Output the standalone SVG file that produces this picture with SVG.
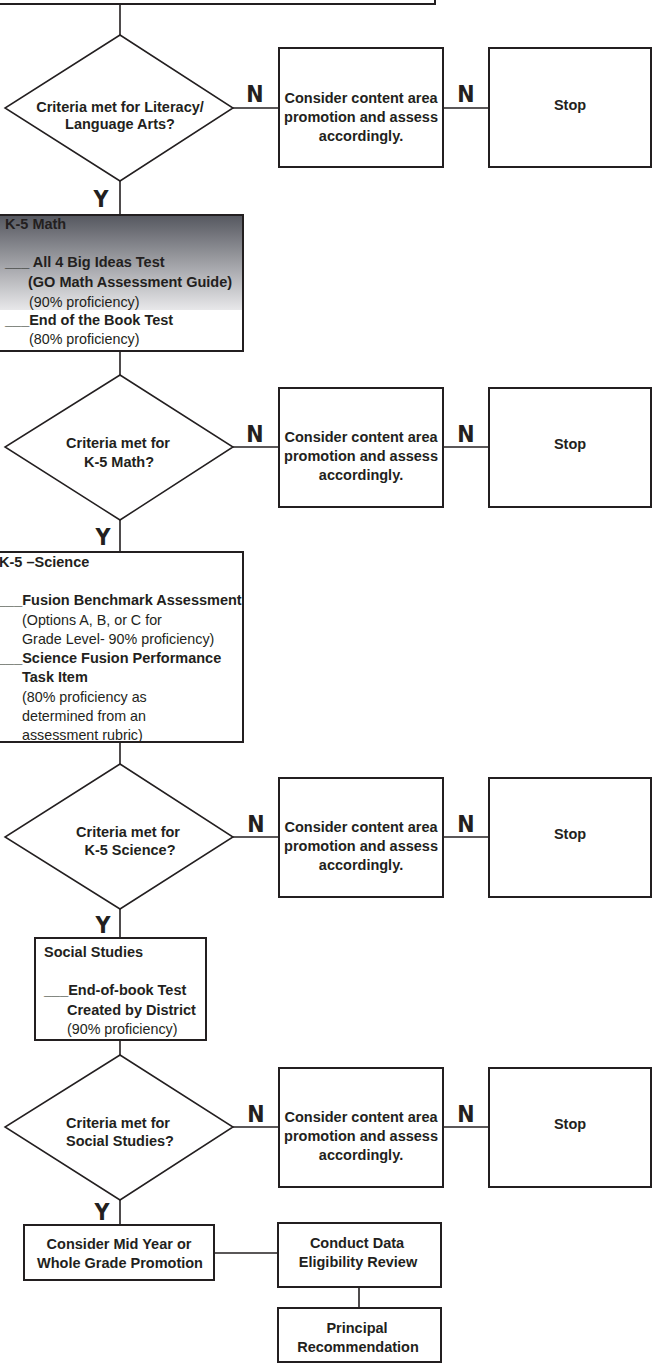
<svg xmlns="http://www.w3.org/2000/svg" width="653" height="1367" viewBox="0 0 653 1367">
<defs>
<linearGradient id="mathGrad" x1="0" y1="0" x2="0" y2="1">
<stop offset="0" stop-color="#55575f"/>
<stop offset="1" stop-color="#e8e8ea"/>
</linearGradient>
<style>
.box{fill:#fff;stroke:#231f20;stroke-width:2}
.dia{fill:#fff;stroke:#231f20;stroke-width:1.5}
.ln{stroke:#231f20;stroke-width:1.6;fill:none}
text{font-family:"Liberation Sans",Arial,sans-serif;fill:#231f20}
.b{font-size:14.5px;font-weight:bold}
.r{font-size:14.3px}
.c{text-anchor:middle}
.lbl{font-family:"Liberation Sans Narrow","DejaVu Sans Condensed",sans-serif;font-size:23px;font-weight:bold;text-anchor:middle}
</style>
</defs>
<rect width="653" height="1367" fill="#fff"/>

<g id="connectors">
<line class="ln" x1="120" y1="4" x2="120" y2="35"/>
<line class="ln" x1="233" y1="108" x2="279" y2="108"/>
<line class="ln" x1="443" y1="108" x2="489" y2="108"/>
<line class="ln" x1="120" y1="181" x2="120" y2="224"/>
<line class="ln" x1="120" y1="343" x2="120" y2="375"/>
<line class="ln" x1="233" y1="447" x2="279" y2="447"/>
<line class="ln" x1="443" y1="447" x2="489" y2="447"/>
<line class="ln" x1="120" y1="520" x2="120" y2="552"/>
<line class="ln" x1="120" y1="742" x2="120" y2="764"/>
<line class="ln" x1="233" y1="837" x2="279" y2="837"/>
<line class="ln" x1="443" y1="837" x2="489" y2="837"/>
<line class="ln" x1="120" y1="909" x2="120" y2="938"/>
<line class="ln" x1="120" y1="1040" x2="120" y2="1055"/>
<line class="ln" x1="233" y1="1127" x2="279" y2="1127"/>
<line class="ln" x1="443" y1="1127" x2="489" y2="1127"/>
<line class="ln" x1="120" y1="1200" x2="120" y2="1225"/>
<line class="ln" x1="214" y1="1253" x2="278" y2="1253"/>
<line class="ln" x1="359" y1="1287" x2="359" y2="1308"/>
<text class="lbl" x="255" y="102">N</text>
<text class="lbl" x="466" y="102">N</text>
<text class="lbl" x="101" y="207">Y</text>
<text class="lbl" x="255" y="442">N</text>
<text class="lbl" x="466" y="442">N</text>
<text class="lbl" x="103" y="545">Y</text>
<text class="lbl" x="256" y="832">N</text>
<text class="lbl" x="466" y="832">N</text>
<text class="lbl" x="103" y="933">Y</text>
<text class="lbl" x="256" y="1122">N</text>
<text class="lbl" x="466" y="1122">N</text>
<text class="lbl" x="102" y="1220">Y</text>
</g>

<g id="top-box">
<rect class="box" x="-4" y="-40" width="439" height="44"/>
</g>

<g id="decision-literacy">
<polygon class="dia" points="120,35 233,108 120,181 5,108"/>
<text class="b c" x="120" y="112">Criteria met for Literacy/</text>
<text class="b c" x="120" y="129">Language Arts?</text>
</g>
<g id="consider-1">
<rect class="box" x="279" y="48" width="164" height="119"/>
<text class="b c" x="361" y="103">Consider content area</text>
<text class="b c" x="361" y="122">promotion and assess</text>
<text class="b c" x="361" y="141">accordingly.</text>
</g>
<g id="stop-1">
<rect class="box" x="489" y="48" width="162" height="119"/>
<text class="b c" x="570" y="110">Stop</text>
</g>

<g id="math-box">
<rect x="-2" y="215" width="245" height="136" fill="#fff"/>
<rect x="-2" y="215" width="245" height="95" fill="url(#mathGrad)"/>
<rect x="-2" y="215" width="245" height="136" fill="none" stroke="#231f20" stroke-width="2"/>
<text class="b" x="5" y="229">K-5 Math</text>
<text class="b" x="5" y="267">___ All 4 Big Ideas Test</text>
<text class="b" x="28" y="287">(GO Math Assessment Guide)</text>
<text class="r" x="29" y="307">(90% proficiency)</text>
<text class="b" x="5" y="325">___End of the Book Test</text>
<text class="r" x="29" y="344">(80% proficiency)</text>
</g>

<g id="decision-math">
<polygon class="dia" points="120,375 233,447 120,520 5,447"/>
<text class="b c" x="118" y="448">Criteria met for</text>
<text class="b c" x="119" y="467">K-5 Math?</text>
</g>
<g id="consider-2">
<rect class="box" x="279" y="388" width="164" height="119"/>
<text class="b c" x="361" y="442">Consider content area</text>
<text class="b c" x="361" y="461">promotion and assess</text>
<text class="b c" x="361" y="480">accordingly.</text>
</g>
<g id="stop-2">
<rect class="box" x="489" y="388" width="162" height="119"/>
<text class="b c" x="570" y="449">Stop</text>
</g>

<g id="science-box">
<rect class="box" x="-5" y="552" width="248" height="190"/>
<text class="b" x="-1" y="567">K-5 –Science</text>
<text class="b" x="-2" y="605">___Fusion Benchmark Assessment</text>
<text class="r" x="22" y="625">(Options A, B, or C for</text>
<text class="r" x="22" y="644">Grade Level- 90% proficiency)</text>
<text class="b" x="-2" y="663">___Science Fusion Performance</text>
<text class="b" x="22" y="682">Task Item</text>
<text class="r" x="22" y="702">(80% proficiency as</text>
<text class="r" x="22" y="721">determined from an</text>
<text class="r" x="22" y="740">assessment rubric)</text>
</g>

<g id="decision-science">
<polygon class="dia" points="120,764 233,837 120,909 5,837"/>
<text class="b c" x="128" y="837">Criteria met for</text>
<text class="b c" x="130" y="855">K-5 Science?</text>
</g>
<g id="consider-3">
<rect class="box" x="279" y="778" width="164" height="119"/>
<text class="b c" x="361" y="832">Consider content area</text>
<text class="b c" x="361" y="851">promotion and assess</text>
<text class="b c" x="361" y="870">accordingly.</text>
</g>
<g id="stop-3">
<rect class="box" x="489" y="778" width="162" height="119"/>
<text class="b c" x="570" y="839">Stop</text>
</g>

<g id="social-studies-box">
<rect class="box" x="35" y="938" width="171" height="102"/>
<text class="b" x="44" y="957">Social Studies</text>
<text class="b" x="44" y="995">___End-of-book Test</text>
<text class="b" x="67" y="1015">Created by District</text>
<text class="r" x="67" y="1034">(90% proficiency)</text>
</g>

<g id="decision-social">
<polygon class="dia" points="120,1055 233,1127 120,1200 5,1127"/>
<text class="b c" x="118" y="1128">Criteria met for</text>
<text class="b c" x="120" y="1146">Social Studies?</text>
</g>
<g id="consider-4">
<rect class="box" x="279" y="1068" width="164" height="119"/>
<text class="b c" x="361" y="1122">Consider content area</text>
<text class="b c" x="361" y="1141">promotion and assess</text>
<text class="b c" x="361" y="1160">accordingly.</text>
</g>
<g id="stop-4">
<rect class="box" x="489" y="1068" width="162" height="119"/>
<text class="b c" x="570" y="1129">Stop</text>
</g>

<g id="mid-year">
<rect class="box" x="24" y="1225" width="190" height="55"/>
<text class="b c" x="119" y="1249">Consider Mid Year or</text>
<text class="b c" x="120" y="1268">Whole Grade Promotion</text>
</g>
<g id="data-review">
<rect class="box" x="278" y="1223" width="163" height="64"/>
<text class="b c" x="357" y="1248">Conduct Data</text>
<text class="b c" x="358" y="1267">Eligibility Review</text>
</g>
<g id="principal">
<rect class="box" x="278" y="1308" width="163" height="54"/>
<text class="b c" x="357" y="1333">Principal</text>
<text class="b c" x="358" y="1352">Recommendation</text>
</g>
</svg>
